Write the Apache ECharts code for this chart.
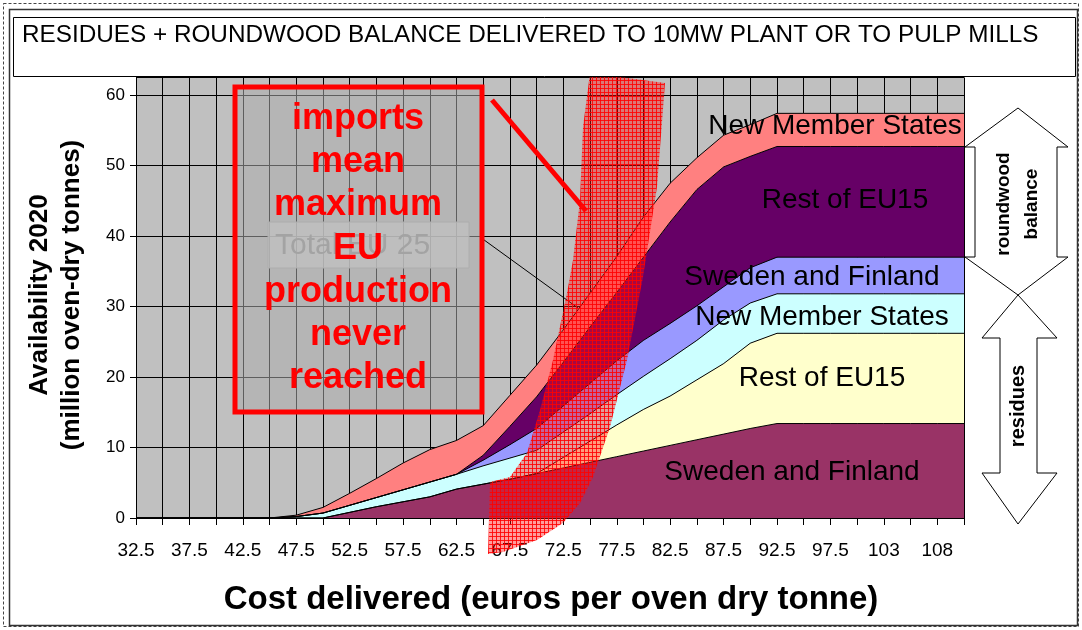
<!DOCTYPE html>
<html>
<head>
<meta charset="utf-8">
<title>Residues + roundwood balance</title>
<script src="https://cdn.jsdelivr.net/npm/echarts@6/dist/echarts.min.js"></script>
<style>
  html, body { margin: 0; padding: 0; background: #fff; }
  #chart { width: 1082px; height: 630px; }
</style>
</head>
<body>
<div id="chart"></div>
<script>
// cost categories (euros per oven dry tonne), every other one gets a label
var categories = ['32.5','35','37.5','40','42.5','45','47.5','50','52.5','55','57.5','60','62.5','65','67.5','70',
                  '72.5','75','77.5','80','82.5','85','87.5','90','92.5','95','97.5','100','103','105','108','110'];

// residues (million oven-dry tonnes)
var sfResidues  = [0,0,0,0,0,0, 0,0,0.8,1.6,2.3,3.0,4.1,4.8,5.5,6.3, 7.1,7.9,8.7,9.5,10.3,11.1,11.9,12.7, 13.4,13.4,13.4,13.4,13.4,13.4,13.4,13.4];
var reuResidues = [0,0,0,0,0,0, 0,0,0,0,0,0,0,0,0,0, 1.5,3.0,4.5,5.9,7.0,8.5,10.0,12.1, 12.8,12.8,12.8,12.8,12.8,12.8,12.8,12.8];
var nmsResidues = [0,0,0,0,0,0, 0.2,0.7,1.0,1.3,1.7,2.1,2.1,2.6,3.0,3.3, 3.6,3.9,4.3,4.7,5.3,5.6,6.2,5.7, 5.6,5.6,5.6,5.6,5.6,5.6,5.6,5.6];
// roundwood balance
var sfRound  = [0,0,0,0,0,0, 0,0,0,0,0,0,0,0.8,1.9,3.1, 3.7,4.3,4.8,5.1,5.0,4.9,4.7,5.0, 5.2,5.2,5.2,5.2,5.2,5.2,5.2,5.2];
var reuRound = [0,0,0,0,0,0, 0,0,0,0,0,0,0,0.7,2.6,4.5, 6.2,8.0,9.7,11.8,14.4,16.5,17.0,15.8, 15.7,15.7,15.7,15.7,15.7,15.7,15.7,15.7];
var nmsRound = [0,0,0,0,0,0, 0.2,0.8,1.7,2.7,3.8,4.6,4.8,4.2,4.4,4.5, 4.6,4.8,5.1,5.7,5.5,4.5,4.5,4.5, 4.7,4.7,4.7,4.7,4.7,4.7,4.7,4.7];

var seriesNames  = ['Sweden and Finland', 'Rest of EU15', 'New Member States', 'Sweden and Finland', 'Rest of EU15', 'New Member States'];
var seriesData   = [sfResidues, reuResidues, nmsResidues, sfRound, reuRound, nmsRound];
var seriesColors = ['#993366', '#FFFFCC', '#CCFFFF', '#9999FF', '#660066', '#FF8080'];

var FONT = 'Liberation Sans, Arial, sans-serif';

// small red grid pattern for the "imports" band
function makeHatch(){
    var c = document.createElement('canvas');
    c.width = 4; c.height = 4;
    var ctx = c.getContext('2d');
    ctx.fillStyle = 'rgba(255,20,20,0.42)';
    ctx.fillRect(0, 0, 4, 4);
    ctx.fillStyle = 'rgba(255,0,0,0.85)';
    ctx.fillRect(0, 0, 4, 1);
    ctx.fillRect(0, 0, 1, 4);
    return c;
}

function txt(x, y, s, size, opt){
    opt = opt || {};
    return {
        type: 'text', x: x, y: y, z: opt.z || 20, rotation: opt.rot || 0,
        style: {
            text: s, fill: opt.color || '#000', font: (opt.weight || 'normal') + ' ' + size + 'px ' + FONT,
            align: opt.align || 'center', verticalAlign: 'middle', lineHeight: opt.lh
        }
    };
}

function buildSeries(){
    return seriesData.map(function(d, i){
        return {
            name: seriesNames[i] + i,
            type: 'line',
            stack: 'total',
            data: d,
            symbol: 'none',
            lineStyle: { color: '#000', width: 1 },
            areaStyle: { color: seriesColors[i], opacity: 1 },
            z: 2
        };
    });
}

function buildGraphic(){
    var hatch = makeHatch();
    var g = [];
    // frames + title box
    g.push({ type: 'rect', shape: { x: 3.5, y: 3.5, width: 1075, height: 623 }, style: { fill: 'none', stroke: '#444', lineDash: [3, 2], lineWidth: 1 }, z: 1 });
    g.push({ type: 'rect', shape: { x: 9.5, y: 9.5, width: 1068, height: 616 }, style: { fill: 'none', stroke: '#333', lineWidth: 1.5 }, z: 1 });
    g.push({ type: 'rect', shape: { x: 13.5, y: 17.5, width: 1062, height: 59 }, style: { fill: '#fff', stroke: '#000', lineWidth: 1 }, z: 30 });
    g.push(txt(22, 35, 'RESIDUES + ROUNDWOOD BALANCE DELIVERED TO 10MW PLANT OR TO PULP MILLS', 24.3, { align: 'left', z: 31 }));

    // axis titles
    g.push(txt(40, 295, 'Availability 2020', 26, { weight: 'bold', rot: Math.PI / 2 }));
    g.push(txt(72, 295, '(million oven-dry tonnes)', 26, { weight: 'bold', rot: Math.PI / 2 }));
    g.push(txt(551, 600, 'Cost delivered (euros per oven dry tonne)', 33, { weight: 'bold' }));

    // labels on the bands
    g.push(txt(835, 126, 'New Member States', 28));
    g.push(txt(845, 200, 'Rest of EU15', 28));
    g.push(txt(812, 277, 'Sweden and Finland', 28));
    g.push(txt(822, 317, 'New Member States', 28));
    g.push(txt(822, 378, 'Rest of EU15', 28));
    g.push(txt(792, 472, 'Sweden and Finland', 28));

    // "Total EU 25" call-out
    g.push({ type: 'rect', shape: { x: 268, y: 222, width: 201, height: 46 }, style: { fill: 'rgba(218,218,218,0.8)', stroke: '#b0b0b0', lineWidth: 1 }, z: 10 });
    g.push(txt(275, 246, 'Total EU 25', 30, { align: 'left', color: '#999', z: 11 }));
    g.push({ type: 'line', shape: { x1: 480, y1: 237, x2: 578, y2: 308 }, style: { stroke: '#000', lineWidth: 1 }, z: 10 });

    // imports box
    g.push({ type: 'rect', shape: { x: 235, y: 87, width: 247, height: 325 }, style: { fill: 'rgba(172,172,172,0.55)', stroke: '#ff0000', lineWidth: 5 }, z: 12 });
    var lines = ['imports', 'mean', 'maximum', 'EU', 'production', 'never', 'reached'];
    lines.forEach(function(s, i){
        g.push(txt(358, 119 + i * 43.2, s, 36, { weight: 'bold', color: '#ff0000', z: 13 }));
    });
    g.push({ type: 'line', shape: { x1: 492, y1: 100, x2: 586, y2: 211 }, style: { stroke: '#ff0000', lineWidth: 5 }, z: 13 });

    // red hatched band
    g.push({
        type: 'polygon', z: 14,
        shape: { points: [[590,73],[665,83],[657,187],[643,277],[627,360],[610,427],[593,477],[580,503],[563,523],[537,540],[503,552],[488,554],
                          [490,482],[510,477],[527,453],[540,410],[553,360],[567,293],[573,260],[580,200],[583,127]] },
        style: { fill: { image: hatch, repeat: 'repeat' }, stroke: 'none' }
    });

    // right hand arrows
    g.push({
        type: 'polygon', z: 15,
        shape: { points: [[1018,108],[1068,147],[1057,147],[1057,257],[1068,257],[1018,295],[965,257],[975,257],[975,147],[965,147]] },
        style: { fill: '#fff', stroke: '#000', lineWidth: 1 }
    });
    g.push({
        type: 'polygon', z: 15,
        shape: { points: [[1018,295],[1057,338],[1037,338],[1037,473],[1057,473],[1018,524],[982,473],[1000,473],[1000,338],[982,338]] },
        style: { fill: '#fff', stroke: '#000', lineWidth: 1 }
    });
    g.push(txt(1018, 204, 'roundwood\nbalance', 19, { weight: 'bold', rot: Math.PI / 2, lh: 28, z: 16 }));
    g.push(txt(1018, 406, 'residues', 20, { weight: 'bold', rot: Math.PI / 2, z: 16 }));
    return g;
}

var chart = echarts.init(document.getElementById('chart'));
var option = {
    animation: false,
    backgroundColor: '#fff',
    grid: { left: 136, right: 118, top: 77.4, bottom: 112, show: true, backgroundColor: '#C0C0C0', borderWidth: 0 },
    xAxis: {
        type: 'category',
        data: categories,
        boundaryGap: false,
        axisLine: { lineStyle: { color: '#000', width: 1 } },
        axisTick: { interval: 0, length: 7, lineStyle: { color: '#000' } },
        axisLabel: { interval: 1, color: '#000', fontSize: 19, fontFamily: FONT, margin: 23 },
        splitLine: { show: true, interval: 0, lineStyle: { color: '#000', width: 1 } }
    },
    yAxis: {
        type: 'value',
        min: 0, max: 62.5, interval: 10,
        axisLine: { show: true, lineStyle: { color: '#000', width: 1 } },
        axisTick: { show: true, length: 6, lineStyle: { color: '#000' } },
        axisLabel: { color: '#000', fontSize: 17, fontFamily: FONT, margin: 11, showMaxLabel: false },
        splitLine: { show: true, lineStyle: { color: '#000', width: 1 } }
    },
    series: buildSeries(),
    graphic: buildGraphic()
};
chart.setOption(option);
</script>
</body>
</html>
